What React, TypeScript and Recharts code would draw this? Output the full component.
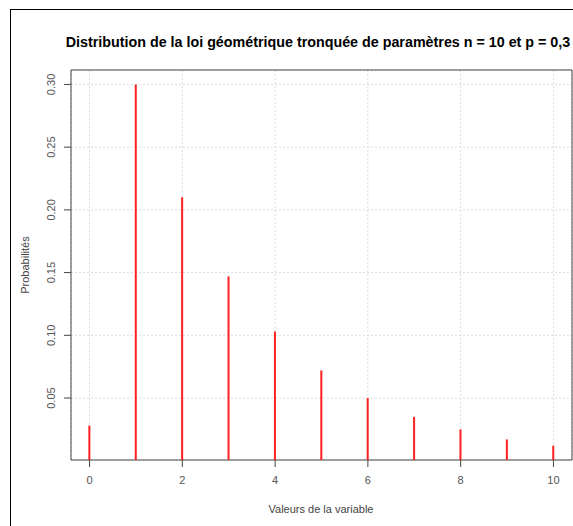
import {
  Bar,
  BarChart,
  CartesianGrid,
  ReferenceArea,
  XAxis,
  YAxis,
} from "recharts";

const valeurs = [0, 1, 2, 3, 4, 5, 6, 7, 8, 9, 10];
const probabilites = [0.028, 0.3, 0.21, 0.147, 0.103, 0.072, 0.05, 0.035, 0.025, 0.017, 0.012];
const xTicks = [0, 2, 4, 6, 8, 10];
const yTicks = [0.05, 0.1, 0.15, 0.2, 0.25, 0.3];
const xDomain: [number, number] = [-0.4, 10.4];
const yDomain: [number, number] = [0.0006, 0.3115];

const data = valeurs.map((v, i) => ({ x: v, p: probabilites[i] }));

const font = '"Liberation Sans", Arial, sans-serif';

const YTick = (props: any) => {
  const { x, y, payload } = props;
  return (
    <text
      x={x - 1}
      y={y}
      transform={`rotate(-90, ${x - 1}, ${y})`}
      textAnchor="middle"
      fontSize={11}
      fontFamily={font}
      fill="#555"
    >
      {payload.value.toFixed(2)}
    </text>
  );
};

export default function App() {
  return (
    <div style={{ position: "fixed", left: 0, top: 0, width: 573, height: 526, background: "#fff" }}>
      <div
        style={{
          position: "absolute",
          left: 10,
          top: 9,
          width: 600,
          height: 600,
          borderLeft: "1px solid #000",
          borderTop: "1px solid #000",
        }}
      />
      <BarChart
        width={573}
        height={526}
        data={data}
        margin={{ top: 70, right: 1, left: 0, bottom: 26 }}
        style={{ position: "absolute", left: 0, top: 0, fontFamily: font }}
      >
        <text x={318} y={47} textAnchor="middle" fontSize={14.3} fontWeight="bold" fontFamily={font} fill="#000">
          Distribution de la loi géométrique tronquée de paramètres n = 10 et p = 0,3
        </text>
        <text x={321} y={513} textAnchor="middle" fontSize={11} fontFamily={font} fill="#444">
          Valeurs de la variable
        </text>
        <text
          x={29}
          y={265}
          transform="rotate(-90, 29, 265)"
          textAnchor="middle"
          fontSize={11}
          fontFamily={font}
          fill="#444"
        >
          Probabilités
        </text>
        <CartesianGrid stroke="#dcdcdc" strokeDasharray="2 2" />
        <XAxis
          dataKey="x"
          type="number"
          domain={xDomain}
          ticks={xTicks}
          allowDataOverflow
          height={40}
          axisLine={false}
          tickSize={7}
          tickMargin={9}
          tickLine={{ stroke: "#444" }}
          tick={{ fill: "#555", fontSize: 11, fontFamily: font }}
        />
        <YAxis
          type="number"
          domain={yDomain}
          ticks={yTicks}
          allowDataOverflow
          width={71}
          axisLine={false}
          tickSize={7}
          tickMargin={8}
          tickLine={{ stroke: "#444" }}
          tick={<YTick />}
        />
        <ReferenceArea
          x1={xDomain[0]}
          x2={xDomain[1]}
          y1={yDomain[0]}
          y2={yDomain[1]}
          fill="none"
          fillOpacity={0}
          stroke="#444"
          strokeWidth={1}
        />
        <Bar dataKey="p" fill="#ff2020" barSize={2} isAnimationActive={false} />
      </BarChart>
    </div>
  );
}
